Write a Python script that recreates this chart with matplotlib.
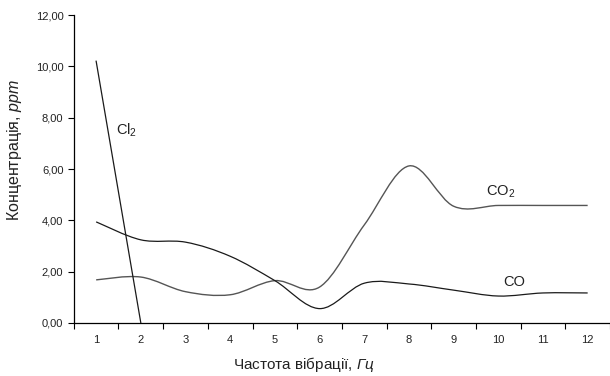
import numpy as np
import matplotlib
matplotlib.use("Agg")
import matplotlib.pyplot as plt
from matplotlib.path import Path
from matplotlib.patches import PathPatch

plt.rcParams["font.family"] = ["Liberation Sans", "DejaVu Sans"]
plt.rcParams["mathtext.fontset"] = "custom"
plt.rcParams["mathtext.rm"] = "Liberation Sans"
plt.rcParams["mathtext.it"] = "Liberation Sans:italic"

# data
freq = [1, 2, 3, 4, 5, 6, 7, 8, 9, 10, 11, 12]
co2 = [1.68, 1.79, 1.22, 1.10, 1.65, 1.40, 3.82, 6.12, 4.55, 4.58, 4.58, 4.58]
co = [3.94, 3.24, 3.15, 2.60, 1.65, 0.56, 1.55, 1.52, 1.28, 1.05, 1.17, 1.17]
cl2_x = [1, 2]
cl2 = [10.2, 0.0]
y_ticks = [0, 2, 4, 6, 8, 10, 12]


def smooth_path(x, y):
    # Excel-style smoothed line: cubic Bezier segments through the points
    x = np.asarray(x, float)
    y = np.asarray(y, float)
    pts = np.column_stack([x, y])
    n = len(pts)
    verts = [pts[0]]
    codes = [Path.MOVETO]
    for i in range(n - 1):
        p0 = pts[i - 1] if i > 0 else pts[i]
        p1 = pts[i]
        p2 = pts[i + 1]
        p3 = pts[i + 2] if i + 2 < n else pts[i + 1]
        c1 = p1 + (p2 - p0) / 6.0
        c2 = p2 - (p3 - p1) / 6.0
        verts += [c1, c2, p2]
        codes += [Path.CURVE4] * 3
    return Path(verts, codes)


fig = plt.figure(figsize=(6.10, 3.76), dpi=100)
ax = fig.add_axes([0.121, 0.141, 0.879, 0.819])

ax.add_patch(PathPatch(smooth_path(freq, co2), fill=False, edgecolor="#555555", lw=1.0))
ax.add_patch(PathPatch(smooth_path(freq, co), fill=False, edgecolor="#1a1a1a", lw=0.9))
ax.plot(cl2_x, cl2, color="#1a1a1a", lw=0.9)

ax.text(1.45, 7.5, r"$\mathrm{Cl}_2$", fontsize=10.5, color="#222222", va="center")
ax.text(9.72, 5.1, r"$\mathrm{CO}_2$", fontsize=10.5, color="#222222", va="center")
ax.text(10.1, 1.6, "CO", fontsize=10.5, color="#222222", va="center")

ax.set_xlim(0.5, 12.44)
ax.set_ylim(0, 12)
ax.set_xticks(freq)
ax.set_xticklabels([str(v) for v in freq])
ax.set_xticks(np.arange(0.5, 13, 1.0), minor=True)
ax.tick_params(axis="x", which="major", length=0, pad=9, labelsize=8, colors="#222222")
ax.tick_params(axis="x", which="minor", length=4, width=0.8, direction="out", color="black")
ax.set_yticks(y_ticks)
ax.set_yticklabels([f"{v:.2f}".replace(".", ",") for v in y_ticks])
ax.tick_params(axis="y", length=4, width=0.8, direction="out", labelsize=8,
               color="black", labelcolor="#222222")

for s in ["top", "right"]:
    ax.spines[s].set_visible(False)
for s in ["left", "bottom"]:
    ax.spines[s].set_linewidth(0.9)
    ax.spines[s].set_color("black")

ax.set_xlabel(r"Частота вібрації, $\mathit{Гц}$", fontsize=11, color="#222222")
ax.xaxis.set_label_coords(0.43, -0.105)
ax.set_ylabel(r"Концентрація, $\mathit{ppm}$", fontsize=11.5, color="#222222")
ax.yaxis.set_label_coords(-0.092, 0.56)

fig.savefig("out.png", dpi=100)
